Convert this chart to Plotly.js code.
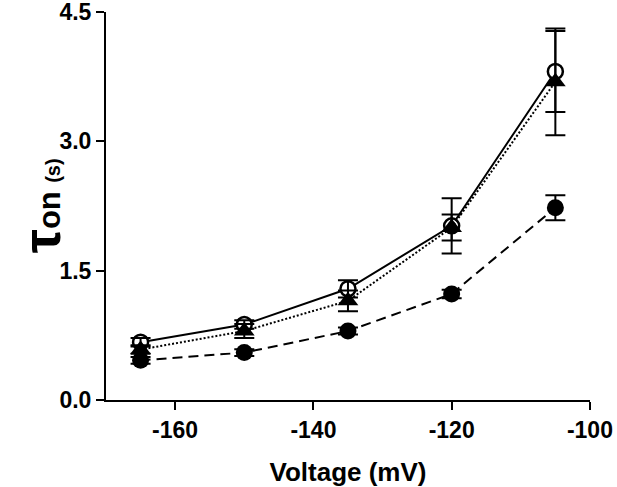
<!DOCTYPE html>
<html><head><meta charset="utf-8">
<script src="https://cdn.plot.ly/plotly-3.0.1.min.js"></script>
<style>body{margin:0;background:#fff}#c{width:617px;height:487px}</style>
</head><body><div id="c"></div>
<script>
const voltage = [-165, -150, -135, -120, -105];
const openCircle = [0.67, 0.875, 1.29, 2.02, 3.81];
const openCircleErr = [0.05, 0.05, 0.10, 0.32, 0.47];
const triangle = [0.585, 0.80, 1.15, 2.00, 3.69];
const triangleErr = [0.05, 0.08, 0.12, 0.15, 0.62];
const filledCircle = [0.46, 0.55, 0.80, 1.23, 2.23];
const filledCircleErr = [0.04, 0.04, 0.04, 0.05, 0.145];
const xTicks = [-160, -140, -120, -100];
const yTicks = [0, 1.5, 3.0, 4.5];

function errTrace(y, e) {
  return {x: voltage, y: y, mode: 'markers', marker: {size: 1, color: 'rgba(0,0,0,0)'},
    error_y: {type: 'data', array: e, visible: true, color: '#000', thickness: 2, width: 10},
    showlegend: false, hoverinfo: 'skip'};
}

const traces = [
  {x: voltage, y: filledCircle, mode: 'lines+markers',
   line: {color: '#000', width: 2, dash: '10px,6px'},
   marker: {symbol: 'circle', size: 17, color: '#000'}},
  {x: voltage, y: openCircle, mode: 'lines+markers',
   line: {color: '#000', width: 2},
   marker: {symbol: 'circle', size: 15, color: '#fff', line: {color: '#000', width: 2.5}}},
  {x: voltage, y: triangle, mode: 'lines+markers',
   line: {color: '#000', width: 2, dash: '2px,2px'},
   marker: {symbol: 'triangle-up', size: 18, color: '#000'}},
  errTrace(filledCircle, filledCircleErr),
  errTrace(openCircle, openCircleErr),
  errTrace(triangle, triangleErr)
];

const font = {family: 'Liberation Sans, Arial, sans-serif', color: '#000'};
const layout = {
  width: 617, height: 487,
  margin: {l: 106, r: 27, t: 12, b: 87},
  paper_bgcolor: '#fff', plot_bgcolor: '#fff',
  showlegend: false,
  font: font,
  xaxis: {range: [-170, -99.99], tickvals: xTicks, ticktext: xTicks.map(String),
    showline: true, linecolor: '#000', linewidth: 2, mirror: false,
    ticks: 'outside', ticklen: 8, tickwidth: 2, tickcolor: '#000',
    showgrid: false, zeroline: false, ticklabeloverflow: 'allow',
    tickfont: {family: font.family, size: 23, color: '#000', weight: 'bold'},
    title: {text: '<b>Voltage (mV)</b>', font: {family: font.family, size: 26, color: '#000'}}},
  yaxis: {range: [0, 4.5], tickvals: yTicks, ticktext: yTicks.map(v => v.toFixed(1)),
    showline: true, linecolor: '#000', linewidth: 2,
    ticks: 'outside', ticklen: 8, tickwidth: 2, tickcolor: '#000',
    showgrid: false, zeroline: false, ticklabeloverflow: 'allow',
    tickfont: {family: font.family, size: 23, color: '#000', weight: 'bold'},
    title: {text: ''}},
  annotations: [{
    text: '<b><span style="font-size:54px">τ</span><span style="font-size:31px">on</span> <span style="font-size:20px">(s)</span></b>',
    font: {family: font.family, size: 30, color: '#000'},
    textangle: -90, showarrow: false,
    xref: 'paper', yref: 'paper', x: -0.2, y: 0.5, xanchor: 'left', yanchor: 'middle'
  }]
};
Plotly.newPlot('c', traces, layout, {displayModeBar: false, staticPlot: true});
</script></body></html>
